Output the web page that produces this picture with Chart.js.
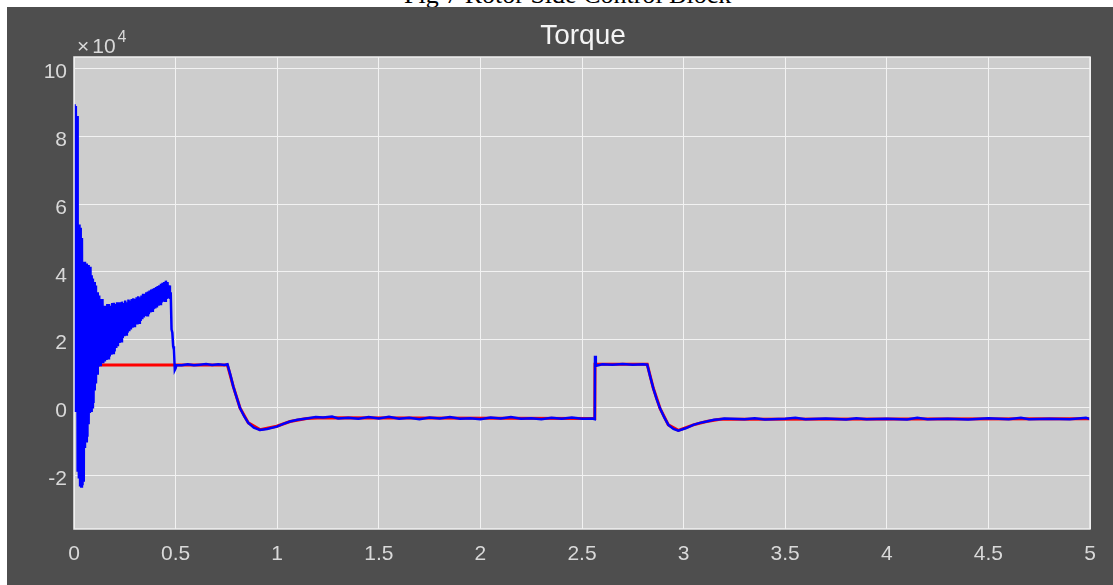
<!DOCTYPE html>
<html>
<head>
<meta charset="utf-8">
<script src="https://cdn.jsdelivr.net/npm/chart.js@4.4.1/dist/chart.umd.min.js"></script>
<style>
  html, body { margin: 0; padding: 0; background: #ffffff; width: 1113px; height: 585px; overflow: hidden; }
  #caption { position: absolute; left: 0; top: 0; width: 1113px; height: 7px; overflow: hidden; }
  #caption span { position: absolute; left: 404px; top: -18px; font-family: "Liberation Serif", "Times New Roman", serif; font-size: 26px; line-height: 26px; color: #000; white-space: nowrap; }
  #frame { position: absolute; left: 7px; top: 7px; width: 1106px; height: 578px; background: #4e4e4e; }
  canvas { display: block; }
</style>
</head>
<body>
<div id="caption"><span>Fig 7 Rotor Side Control Block</span></div>
<div id="frame"><canvas id="torque" width="1106" height="578"></canvas></div>
<script>
// Electromagnetic torque (x10^4), time in seconds
const torqueTime = [
  0.000, 0.003, 0.006, 0.009, 0.012, 0.015, 0.018, 0.021, 0.024, 0.027,
  0.030, 0.033, 0.036, 0.039, 0.042, 0.045, 0.048, 0.051, 0.054, 0.057,
  0.060, 0.063, 0.066, 0.069, 0.072, 0.075, 0.078, 0.081, 0.084, 0.087,
  0.090, 0.093, 0.096, 0.099, 0.102, 0.105, 0.108, 0.111, 0.114, 0.117,
  0.120, 0.124, 0.128, 0.132, 0.136, 0.140, 0.144, 0.148, 0.152, 0.156,
  0.160, 0.164, 0.168, 0.172, 0.176, 0.180, 0.184, 0.188, 0.192, 0.196,
  0.200, 0.204, 0.208, 0.212, 0.216, 0.220, 0.224, 0.228, 0.232, 0.236,
  0.240, 0.244, 0.248, 0.252, 0.256, 0.260, 0.264, 0.268, 0.272, 0.276,
  0.280, 0.284, 0.288, 0.292, 0.296, 0.300, 0.304, 0.308, 0.312, 0.316,
  0.320, 0.324, 0.328, 0.332, 0.336, 0.340, 0.344, 0.348, 0.352, 0.356,
  0.360, 0.364, 0.368, 0.372, 0.376, 0.380, 0.384, 0.388, 0.392, 0.396,
  0.400, 0.404, 0.408, 0.412, 0.416, 0.420, 0.424, 0.428, 0.432, 0.436,
  0.440, 0.444, 0.448, 0.452, 0.456, 0.460, 0.464, 0.468, 0.472, 0.476,
  0.480, 0.484, 0.488, 0.492, 0.496, 0.500, 0.504,
  0.53, 0.56, 0.59, 0.62, 0.65, 0.68, 0.71, 0.74, 0.755, 0.77,
  0.784, 0.80, 0.817, 0.838, 0.858, 0.885, 0.915, 0.95, 0.998, 1.03,
  1.063, 1.10, 1.145, 1.19, 1.226, 1.27, 1.30, 1.35, 1.40, 1.45,
  1.50, 1.55, 1.60, 1.65, 1.70, 1.75, 1.80, 1.85, 1.90, 1.95,
  2.00, 2.05, 2.10, 2.15, 2.20, 2.25, 2.30, 2.35, 2.40, 2.45,
  2.50, 2.55, 2.563, 2.564, 2.568, 2.60, 2.65, 2.70, 2.75, 2.80,
  2.821, 2.836, 2.851, 2.867, 2.884, 2.905, 2.925, 2.95, 2.974, 3.01,
  3.048, 3.08, 3.113, 3.15, 3.179, 3.20, 3.30, 3.35, 3.40, 3.50,
  3.55, 3.60, 3.70, 3.80, 3.85, 3.90, 4.00, 4.10, 4.15, 4.20,
  4.30, 4.40, 4.50, 4.60, 4.66, 4.70, 4.80, 4.90, 4.98, 5.00
];
const torqueMeasured = [
  0.00, 8.95, -0.10, 8.90, 0.00, 8.60, -1.90, 5.40, -2.10, 5.40,
  -2.30, 5.30, -2.34, 5.00, -2.30, 4.30, -2.20, 4.30, -1.20, 4.25,
  -1.00, 4.25, -0.87, 4.20, -0.50, 4.10, -0.17, 4.15, -0.10, 3.90,
  0.00, 3.80, 0.13, 3.70, 0.50, 3.60, 0.70, 3.40, 1.00, 3.40,
  1.20, 3.30, 1.25, 3.20, 1.30, 3.20, 1.30, 3.00, 1.35, 2.97,
  1.40, 3.05, 1.45, 3.05, 1.50, 3.00, 1.55, 3.08, 1.60, 3.09,
  1.65, 3.05, 1.75, 3.10, 1.80, 3.05, 1.90, 3.10, 1.95, 3.12,
  2.05, 3.08, 2.10, 3.15, 2.15, 3.10, 2.20, 3.18, 2.25, 3.15,
  2.30, 3.20, 2.35, 3.22, 2.40, 3.20, 2.45, 3.25, 2.45, 3.28,
  2.50, 3.25, 2.55, 3.30, 2.60, 3.35, 2.65, 3.32, 2.70, 3.40,
  2.72, 3.42, 2.75, 3.45, 2.80, 3.48, 2.85, 3.50, 2.90, 3.52,
  2.92, 3.55, 2.95, 3.58, 3.00, 3.60, 3.05, 3.65, 3.10, 3.68,
  3.12, 3.70, 3.15, 3.74, 3.20, 3.70, 3.22, 3.60, 3.20, 3.40,
  2.30, 2.20, 1.80, 1.70, 1.10, 1.15, 1.25,
  1.24, 1.27, 1.24, 1.26, 1.28, 1.25, 1.27, 1.25, 1.27, 0.95,
  0.61, 0.30, -0.02, -0.27, -0.46, -0.60, -0.67, -0.64, -0.57, -0.49,
  -0.42, -0.37, -0.33, -0.29, -0.30, -0.27, -0.33, -0.31, -0.34, -0.29,
  -0.33, -0.28, -0.34, -0.31, -0.35, -0.30, -0.33, -0.29, -0.34, -0.32,
  -0.35, -0.30, -0.33, -0.29, -0.34, -0.32, -0.35, -0.31, -0.34, -0.30,
  -0.34, -0.33, -0.35, 1.52, 1.22, 1.27, 1.26, 1.28, 1.26, 1.27,
  1.26, 0.90, 0.56, 0.25, -0.03, -0.30, -0.52, -0.64, -0.69, -0.62,
  -0.52, -0.46, -0.42, -0.37, -0.35, -0.33, -0.35, -0.32, -0.36, -0.34,
  -0.31, -0.35, -0.33, -0.36, -0.32, -0.35, -0.34, -0.36, -0.31, -0.35,
  -0.34, -0.36, -0.32, -0.35, -0.31, -0.35, -0.34, -0.35, -0.31, -0.35
];

// Torque reference
const refTime = [0.000, 0.755, 0.784, 0.817, 0.858, 0.915, 0.998, 1.063, 1.145, 1.226,
  2.563, 2.564, 2.821, 2.851, 2.884, 2.925, 2.974, 3.048, 3.113, 3.179, 5.000];
const refTorque = [1.25, 1.25, 0.61, -0.02, -0.46, -0.66, -0.56, -0.42, -0.33, -0.31,
  -0.33, 1.27, 1.27, 0.56, -0.03, -0.52, -0.68, -0.52, -0.42, -0.35, -0.34];

const xTicks = [0, 0.5, 1, 1.5, 2, 2.5, 3, 3.5, 4, 4.5, 5];
const xTickLabels = ['0', '0.5', '1', '1.5', '2', '2.5', '3', '3.5', '4', '4.5', '5'];
const yTicks = [-2, 0, 2, 4, 6, 8, 10];
const yTickLabels = ['-2', '0', '2', '4', '6', '8', '10'];

const toPoints = (xs, ys) => xs.map((x, i) => ({ x: x, y: ys[i] }));

const FONT = '"Liberation Sans", Arial, Helvetica, sans-serif';
const LABEL_COLOR = '#d9d9d9';

const plotFrame = {
  id: 'plotFrame',
  beforeDraw(chart) {
    const { ctx, chartArea: a } = chart;
    ctx.save();
    ctx.fillStyle = '#cdcdcd';
    ctx.fillRect(a.left, a.top, a.right - a.left, a.bottom - a.top);
    ctx.restore();
  },
  afterDatasetsDraw(chart) {
    const { ctx, chartArea: a } = chart;
    ctx.save();
    ctx.strokeStyle = '#f0f0f0';
    ctx.lineWidth = 1.5;
    ctx.strokeRect(a.left, a.top, a.right - a.left, a.bottom - a.top);
    ctx.restore();
  },
  afterDraw(chart) {
    const { ctx, chartArea: a } = chart;
    ctx.save();
    // title
    ctx.fillStyle = '#f4f4f4';
    ctx.font = '28px ' + FONT;
    ctx.textAlign = 'center';
    ctx.textBaseline = 'alphabetic';
    ctx.fillText('Torque', (a.left + a.right) / 2 + 1, 36.5);
    // axis exponent
    ctx.fillStyle = LABEL_COLOR;
    ctx.textAlign = 'left';
    ctx.font = '21px ' + FONT;
    let x = 70;
    ctx.fillText('\u00d7', x, 45.5);
    x += ctx.measureText('\u00d7').width + 3;
    ctx.fillText('10', x, 45.5);
    x += ctx.measureText('10').width + 2;
    ctx.font = '16px ' + FONT;
    ctx.fillText('4', x, 35);
    ctx.restore();
  }
};

new Chart(document.getElementById('torque'), {
  type: 'line',
  data: {
    datasets: [
      {
        label: 'Te ref',
        data: toPoints(refTime, refTorque),
        borderColor: '#ff0000',
        borderWidth: 3,
        pointRadius: 0,
        tension: 0,
        fill: false,
        order: 2
      },
      {
        label: 'Te',
        data: toPoints(torqueTime, torqueMeasured),
        borderColor: '#0000ff',
        borderWidth: 2.5,
        pointRadius: 0,
        tension: 0,
        fill: false,
        order: 1
      }
    ]
  },
  options: {
    responsive: false,
    animation: false,
    parsing: false,
    normalized: true,
    layout: { padding: { left: 0, right: 23, top: 50, bottom: 0 } },
    plugins: {
      legend: { display: false },
      title: { display: false },
      tooltip: { enabled: false }
    },
    scales: {
      x: {
        type: 'linear',
        min: 0,
        max: 5,
        afterBuildTicks: s => { s.ticks = xTicks.map(v => ({ value: v })); },
        afterFit: s => { s.height = 56; },
        grid: { color: '#f2f2f2', lineWidth: 1, drawTicks: false },
        border: { display: false },
        ticks: {
          color: LABEL_COLOR,
          font: { family: FONT, size: 21 },
          padding: 13,
          maxRotation: 0,
          autoSkip: false,
          callback: (v, i) => xTickLabels[i]
        }
      },
      y: {
        type: 'linear',
        min: -3.594,
        max: 10.345,
        afterBuildTicks: s => { s.ticks = yTicks.map(v => ({ value: v })); },
        afterFit: s => { s.width = 67; },
        grid: { color: '#f2f2f2', lineWidth: 1, drawTicks: false },
        border: { display: false },
        ticks: {
          color: LABEL_COLOR,
          font: { family: FONT, size: 21 },
          padding: 7,
          labelOffset: 4,
          autoSkip: false,
          callback: (v, i) => yTickLabels[i]
        }
      }
    }
  },
  plugins: [plotFrame]
});
</script>
</body>
</html>
